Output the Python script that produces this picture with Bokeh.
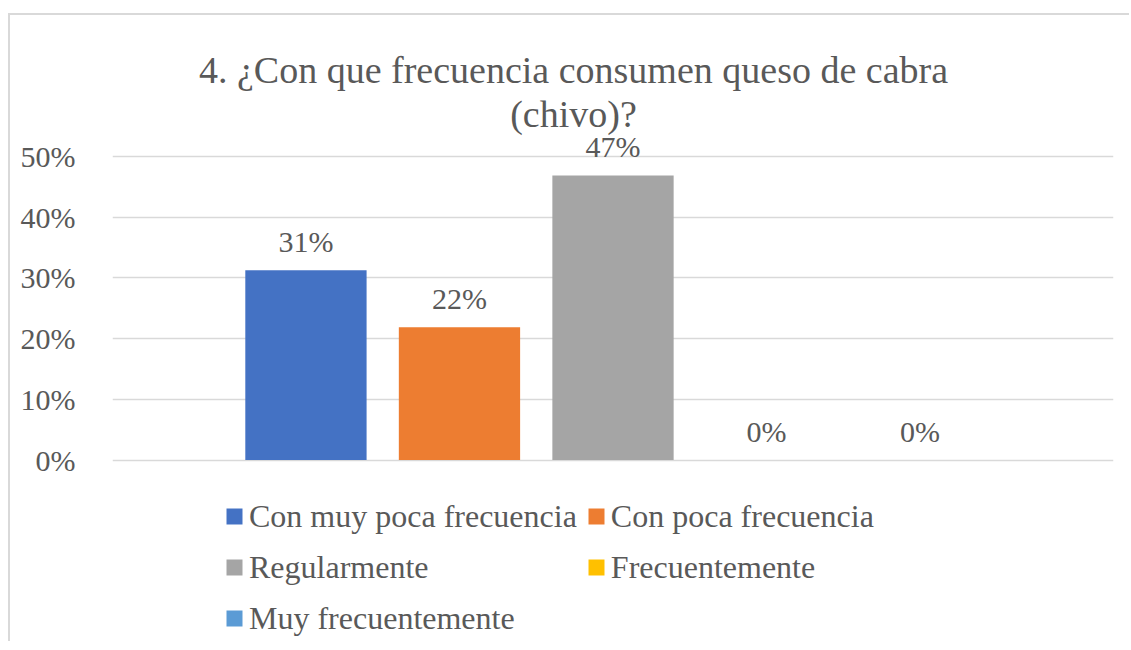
from bokeh.plotting import figure
from bokeh.models import (ColumnDataSource, FactorRange, Range1d, FixedTicker,
                          NumeralTickFormatter, LabelSet, Label, Legend, LegendItem)
from bokeh.core.properties import value
from bokeh.embed import file_html
from bokeh.resources import INLINE

# ---- data ----
series = ["Con muy poca frecuencia", "Con poca frecuencia", "Regularmente",
          "Frecuentemente", "Muy frecuentemente"]
values = [0.3125, 0.21875, 0.46875, 0.0, 0.0]
labels = ["31%", "22%", "47%", "0%", "0%"]
colors = ["#4472C4", "#ED7D31", "#A5A5A5", "#FFC000", "#5B9BD5"]
y_ticks = [0, 0.1, 0.2, 0.3, 0.4, 0.5]
title_lines = ["4. ¿Con que frecuencia consumen queso de cabra", "(chivo)?"]

FONT = "Liberation Serif, Times New Roman, serif"
TXT = "#595959"
GRID = "#D9D9D9"

src = ColumnDataSource(dict(x=series, top=values, text=labels, color=colors))

# frame spans the whole chart height so that title/legend annotations are not clipped
p = figure(width=1121, height=628, output_backend="svg", toolbar_location=None,
           x_range=FactorRange(factors=series, range_padding=0.76,
                               range_padding_units="absolute"),
           y_range=Range1d(-0.29736, 0.72406),
           min_border_left=102, min_border_right=18, min_border_top=5,
           min_border_bottom=3)
p.styles = {"border-top": f"2px solid {GRID}", "border-left": f"2px solid {GRID}",
            "margin-top": "13px", "margin-left": "8px"}

p.outline_line_color = None
p.background_fill_color = "white"
p.border_fill_color = "white"

r = p.vbar(x="x", top="top", width=0.79, fill_color="color", line_color=None,
           source=src)

p.xaxis.visible = False
p.xgrid.visible = False

ya = p.yaxis[0]
ya.ticker = FixedTicker(ticks=y_ticks)
ya.formatter = NumeralTickFormatter(format="0%")
ya.axis_line_color = None
ya.major_tick_line_color = None
ya.minor_tick_line_color = None
ya.major_label_standoff = 31
ya.major_label_text_font = FONT
ya.major_label_text_font_size = "30px"
ya.major_label_text_color = TXT

p.ygrid.ticker = FixedTicker(ticks=y_ticks)
p.ygrid.grid_line_color = GRID
p.ygrid.grid_line_width = 1.5

ls = LabelSet(x="x", y="top", text="text", source=src, y_offset=18,
              text_align="center", text_baseline="alphabetic",
              text_font=value(FONT), text_font_size="30px", text_color=TXT)
p.add_layout(ls)

t1 = Label(x=461, y=571, x_units="screen", y_units="screen", text=title_lines[0],
           text_align="center", text_baseline="alphabetic",
           text_font=FONT, text_font_size="38px", text_color=TXT)
t2 = Label(x=461, y=527, x_units="screen", y_units="screen", text=title_lines[1],
           text_align="center", text_baseline="alphabetic",
           text_font=FONT, text_font_size="38px", text_color=TXT)
p.add_layout(t1)
p.add_layout(t2)

items = [LegendItem(label=s, renderers=[r], index=i) for i, s in enumerate(series)]
leg = Legend(items=items, location=(112, 1), orientation="horizontal", ncols=2,
             glyph_width=20, glyph_height=20, label_standoff=5, spacing=9,
             label_height=42, padding=0, margin=0,
             border_line_color=None, background_fill_alpha=0,
             label_text_font=FONT, label_text_font_size="32px", label_text_color=TXT)
p.add_layout(leg, "center")

open("out.html", "w").write(file_html(p, INLINE))
